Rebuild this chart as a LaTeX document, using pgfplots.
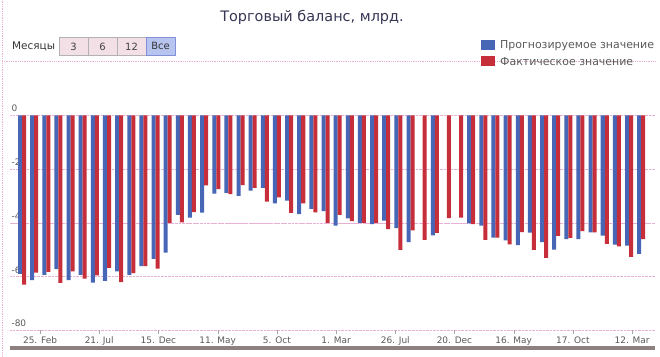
\documentclass[border=0pt]{standalone}
\usepackage{pgfplots}
\pgfplotsset{compat=1.18}
\usepackage{pgfplotstable}
\usepackage{fontspec}
\setmainfont{DejaVu Sans}
\definecolor{fblue}{RGB}{72,102,182}
\definecolor{fred}{RGB}{198,46,58}
\definecolor{gpink}{RGB}{232,176,212}
\definecolor{ggray}{RGB}{150,150,140}
\definecolor{txt}{RGB}{90,90,90}
\definecolor{ttl}{RGB}{55,55,85}
\definecolor{btnfill}{RGB}{242,224,230}
\definecolor{selfill}{RGB}{184,196,240}
\definecolor{seldraw}{RGB}{130,145,215}
\definecolor{navband}{RGB}{140,128,128}

\pgfplotstableread{
idx blue red
0 -59 -63
1 -61.3 -58.5
2 -59.3 -58.2
3 -57.2 -62.3
4 -61.3 -58
5 -59.3 -60.7
6 -62.2 -59.5
7 -61.6 -56.7
8 -58 -62
9 -59.3 -58.7
10 -56.1 -56.1
11 -53.4 -57
12 -51.1 -40
13 -37 -39.8
14 -38 -36
15 -36.2 -26
16 -29.1 -27.4
17 -28.8 -29.3
18 -29.9 -25.9
19 -28 -27
20 -27 -32.1
21 -32.7 -30.5
22 -31.7 -36.3
23 -36.7 -32.7
24 -34.8 -36.1
25 -35.6 -40
26 -41 -37
27 -38.3 -39.3
28 -40 -40
29 -40.5 -40
30 -39.2 -42.3
31 -41.9 -50
32 -47.2 -42.8
33 nan -46.3
34 -44.6 -43.7
35 nan -38.2
36 nan -38
37 -40.2 -40.5
38 -41 -46.3
39 -45.5 -45.5
40 -46.5 -48
41 -48.3 -43.4
42 -43.6 -50
43 -47.2 -53
44 -49.9 -44.8
45 -46 -45.6
46 -46 -43.1
47 -43.5 -43.5
48 -44.7 -47.8
49 -48.1 -48.7
50 -48.5 -52.6
51 -51.5 -46
}\tradedata

\begin{document}
\begin{tikzpicture}
\begin{scope}[x=1bp,y=1bp]
\fill[white] (0,0) rectangle (660,356);
% border and separator lines
\draw[gpink, densely dotted, line width=0.8pt] (2,0) -- (2,356);
\draw[gpink, densely dotted, line width=0.8pt] (2,295) -- (655,295);
% title
\node[ttl, font=\fontsize{14.5}{16}\selectfont] at (312,339) {Торговый баланс, млрд.};
% range selector
\node[anchor=west, text=black!80, font=\fontsize{10.5}{12}\selectfont, inner sep=0pt] at (12,309.5) {Месяцы};
\foreach \xa/\xb/\lab in {59/88/3, 88/117/6, 117/146/12}{
  \draw[draw=black!30, fill=btnfill] (\xa,301) rectangle (\xb,319);
  \node[text=black!75, font=\fontsize{10}{11}\selectfont] at ({(\xa+\xb)/2},310) {\lab};
}
\draw[draw=seldraw, fill=selfill] (146,301) rectangle (175,319);
\node[text=black!80, font=\fontsize{10}{11}\selectfont] at (160.5,310) {Все};
% legend
\fill[fblue] (481,306) rectangle (495,316);
\node[anchor=west, text=txt, font=\fontsize{11}{13}\selectfont, inner sep=0pt] at (500,311) {Прогнозируемое значение};
\fill[fred] (481,290) rectangle (495,300);
\node[anchor=west, text=txt, font=\fontsize{11}{13}\selectfont, inner sep=0pt] at (500,295) {Фактическое значение};
% navigator band
\fill[navband] (10,6) rectangle (655,10);
\end{scope}

\begin{axis}[
  at={(10bp,26bp)}, anchor=south west,
  scale only axis, width=645bp, height=215bp,
  xmin=-0.99, xmax=52.14, ymin=-80, ymax=0,
  axis line style={draw=none},
  ybar=0pt, bar width=0.33,
  ytick={-80,-60,-40,-20,0},
  yticklabels={-80,-60,-40,-20,0},
  ymajorgrids, major grid style={draw=gpink, densely dotted, line width=0.8pt},
  extra y ticks={-40}, extra y tick labels={},
  extra y tick style={grid style={draw=ggray, densely dotted, line width=0.8pt}, major tick length=0pt},
  ytick style={draw=none},
  yticklabel style={anchor=south west, xshift=2bp, text=txt, font=\fontsize{9}{10}\selectfont},
  xtick={1.483,6.360,11.237,16.114,20.991,25.868,30.745,35.622,40.499,45.376,50.253},
  xticklabels={25. Feb,21. Jul,15. Dec,11. May,5. Oct,1. Mar,26. Jul,20. Dec,16. May,17. Oct,12. Mar},
  xtick pos=lower, tick align=outside, major tick length=4bp,
  xtick style={draw=black!35},
  xticklabel style={text=txt, font=\fontsize{9}{10}\selectfont, yshift=1bp},
]
\addplot[fill=fblue, draw=none, bar shift=-0.165] table[x=idx, y=blue] {\tradedata};
\addplot[fill=fred, draw=none, bar shift=0.165] table[x=idx, y=red] {\tradedata};
\end{axis}
\end{tikzpicture}
\end{document}
